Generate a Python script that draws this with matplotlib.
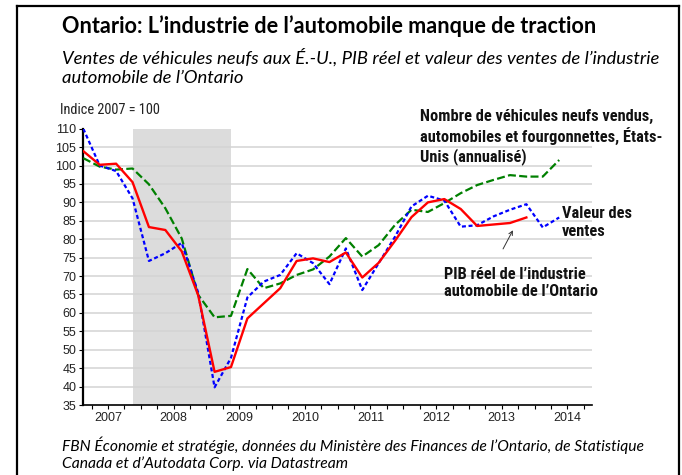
import matplotlib
matplotlib.use("Agg")
import matplotlib.pyplot as plt
from matplotlib.lines import Line2D
from matplotlib import font_manager
import numpy as np

# ---------------- data (quarterly, index 2007 = 100) ----------------
start_year = 2007
years = [2007, 2008, 2009, 2010, 2011, 2012, 2013, 2014]
year_labels = ["2007", "2008", "2009", "2010", "2011", "2012", "2013", "2014"]

gdp_ontario = [103.9, 100.2, 100.5, 95.5, 83.3, 82.5, 76.7, 64.8, 44.0, 45.3,
               58.5, 62.6, 66.7, 74.1, 74.8, 73.8, 76.4, 69.6, 73.6, 79.6,
               86.0, 90.0, 90.9, 88.2, 83.6, 84.0, 84.4, 85.9]
us_vehicles = [102.0, 99.7, 98.9, 99.2, 94.9, 88.4, 80.2, 64.9, 58.8, 59.2,
               71.9, 66.7, 68.0, 70.3, 71.8, 75.3, 80.3, 75.3, 78.4, 83.9,
               88.0, 87.4, 89.8, 92.5, 94.7, 96.1, 97.4, 97.0, 97.0, 101.5]
sales_value = [110.0, 100.0, 98.5, 91.1, 74.1, 76.2, 79.0, 65.5, 39.8, 47.8,
               64.2, 68.5, 70.3, 76.2, 73.5, 67.8, 77.5, 66.2, 73.5, 80.7,
               88.9, 91.8, 90.5, 83.4, 83.8, 86.2, 88.0, 89.5, 83.2, 85.9]
recession = (2007.875, 2009.375)   # recession shading

title = "Ontario: L\u2019industrie de l\u2019automobile manque de traction"
subtitle1 = "Ventes de v\u00e9hicules neufs aux \u00c9.-U., PIB r\u00e9el et valeur des ventes de l\u2019industrie"
subtitle2 = "automobile de l\u2019Ontario"
footer1 = "FBN \u00c9conomie et strat\u00e9gie, donn\u00e9es du Minist\u00e8re des Finances de l\u2019Ontario, de Statistique"
footer2 = "Canada et d\u2019Autodata Corp. via Datastream"
ylabel = "Indice 2007 = 100"
lab_us = "Nombre de v\u00e9hicules neufs vendus,\nautomobiles et fourgonnettes, \u00c9tats-\nUnis (annualis\u00e9)"
lab_sales = "Valeur des\nventes"
lab_gdp = "PIB r\u00e9el de l\u2019industrie\nautomobile de l\u2019Ontario"


def qx(n):
    return [start_year + (i + 0.5) / 4.0 for i in range(n)]


# look for a narrow / condensed sans font, else Liberation Sans
names = {f.name for f in font_manager.fontManager.ttflist}
narrow_pref = ["Liberation Sans Narrow", "Arial Narrow", "Roboto Condensed",
               "Open Sans Condensed", "Noto Sans Condensed", "DejaVu Sans Condensed"]
narrow_found = [n for n in narrow_pref if n in names]
narrow = narrow_found[:1] + ["Liberation Sans", "DejaVu Sans"]
arial = ["Liberation Sans", "DejaVu Sans"]

W, H = 682, 475
fig = plt.figure(figsize=(W / 100, H / 100), dpi=100)
fig.patch.set_facecolor("white")

L, R, T, B = 83.3, 592, 128.7, 405
ax = fig.add_axes([L / W, 1 - B / H, (R - L) / W, (B - T) / H])

calib = ["Lato", "DejaVu Sans"]

ax.axvspan(recession[0], recession[1], color="#dcdcdc", lw=0, zorder=0)
for v in range(40, 110, 5):
    ax.axhline(v, color="#d3d3d3", lw=1.1, zorder=1)

ax.plot(qx(len(us_vehicles)), us_vehicles, color="#008000", lw=1.6,
        dashes=(3.6, 1.5), zorder=3)
ax.plot(qx(len(sales_value)), sales_value, color="#0000ff", lw=1.6,
        dashes=(1.8, 1.2), zorder=4)
ax.plot(qx(len(gdp_ontario)), gdp_ontario, color="#ff0000", lw=1.7, zorder=5)

x0 = start_year + 0.125
x1 = x0 + 31 / 4.0
ax.set_xlim(x0, x1)
ax.set_ylim(35, 110)
ax.set_yticks(np.arange(35, 111, 5))
ax.set_yticklabels([str(v) for v in range(35, 111, 5)])
ax.xaxis.remove_overlapping_locs = False
qb = [start_year + k / 4.0 for k in range(1, 32) if start_year + k / 4.0 < x1]
ax.set_xticks(qb)
ax.set_xticklabels([""] * len(qb))
ax.set_xticks([y + 0.5 for y in years], minor=True)
ax.set_xticklabels(year_labels, minor=True)
ax.tick_params(axis="x", which="major", length=3, width=0.8, color="black")
ax.tick_params(axis="x", which="minor", length=0, pad=5)
ax.tick_params(axis="y", length=3, width=0.8, pad=2)
for lab in ax.get_xticklabels(minor=True) + ax.get_yticklabels():
    lab.set_fontfamily(arial)
    lab.set_fontsize(9)
    lab.set_color("#222222")

for s in ["top", "right"]:
    ax.spines[s].set_visible(False)
ax.spines["left"].set_linewidth(1.6)
ax.spines["bottom"].set_linewidth(1.2)

# annotations inside the chart
ann_kw = dict(fontsize=10.5, fontweight="bold", family=narrow, va="top", ha="left",
              linespacing=1.22, clip_on=False, color="#111111")
t_us = ax.text(2012.26, 115.3, lab_us, **ann_kw)
t_sa = ax.text(2014.42, 89.0, lab_sales, **ann_kw)
t_gd = ax.text(2012.62, 72.5, lab_gdp, **ann_kw)
ax.annotate("", xy=(2013.69, 83.1), xytext=(2013.50, 76.7),
            arrowprops=dict(arrowstyle="->", color="#333333", lw=0.7,
                            mutation_scale=7))

# figure texts
t_ti = fig.text(62 / W, 1 - 26 / H, title, fontsize=15.5, fontweight="bold",
                family=calib, va="center", ha="left")
t_s1 = fig.text(62 / W, 1 - 57 / H, subtitle1, fontsize=11, style="italic",
                family=calib, va="center", ha="left")
t_s2 = fig.text(62 / W, 1 - 78 / H, subtitle2, fontsize=11, style="italic",
                family=calib, va="center", ha="left")
t_yl = fig.text(60 / W, 1 - 110 / H, ylabel, fontsize=10.5, family=narrow,
                va="center", ha="left", color="#222222")
t_f1 = fig.text(62 / W, 1 - 445 / H, footer1, fontsize=11, style="italic",
                family=calib, va="center", ha="left")
t_f2 = fig.text(62 / W, 1 - 464 / H, footer2, fontsize=11, style="italic",
                family=calib, va="center", ha="left")

# fit text widths (pixels) to the reference layout
fig.canvas.draw()
rend = fig.canvas.get_renderer()


def fit(t, target, others=()):
    w = t.get_window_extent(rend).width
    fs = t.get_fontsize() * target / w
    t.set_fontsize(fs)
    for o in others:
        o.set_fontsize(fs)


fit(t_ti, 532)
fit(t_s1, 596, [t_s2])
fit(t_f1, 582, [t_f2])
fit(t_yl, 102)
fit(t_us, 243, [t_sa, t_gd])

# outer frame
fr = dict(color="black", lw=1.6, transform=fig.transFigure)
fig.add_artist(Line2D([17 / W, 17 / W], [0, 1 - 6 / H], **fr))
fig.add_artist(Line2D([17 / W, 679 / W], [1 - 6 / H, 1 - 6 / H], **fr))
fig.add_artist(Line2D([679 / W, 679 / W], [0, 1 - 6 / H], **fr))

fig.savefig("out.png", dpi=100, facecolor="white")
